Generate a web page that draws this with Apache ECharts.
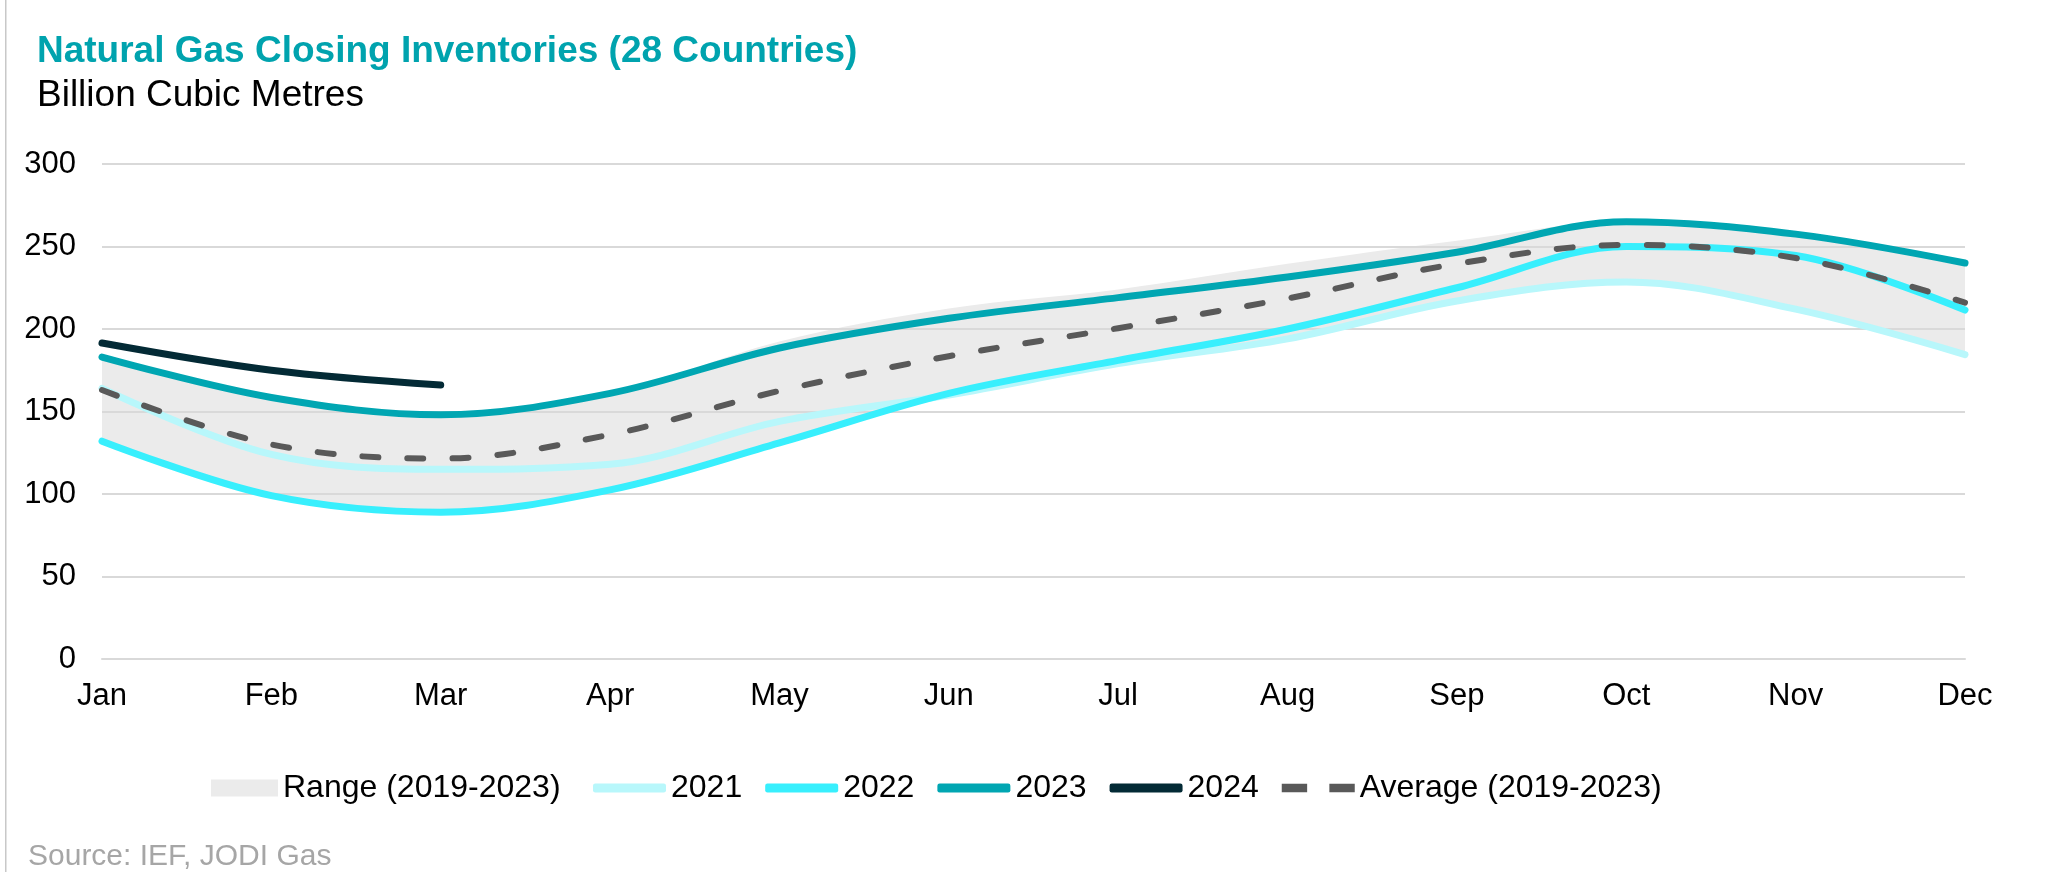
<!DOCTYPE html>
<html>
<head>
<meta charset="utf-8">
<script src="https://cdn.jsdelivr.net/npm/echarts@6/dist/echarts.min.js"></script>
<style>
html,body{margin:0;padding:0;background:#fff;}
#chart{width:2067px;height:872px;}
</style>
</head>
<body>
<div id="chart"></div>
<script>
const months = ['Jan','Feb','Mar','Apr','May','Jun','Jul','Aug','Sep','Oct','Nov','Dec'];
const rangeLow  = [132, 99, 89, 102.5, 131, 160, 179, 194, 217, 228.5, 212, 184.5];
const rangeHigh = [183, 158.5, 148, 161, 192.5, 212.5, 224, 239.5, 253.5, 265, 257.5, 240];
const y2021 = [164, 124, 115, 118, 144, 160, 179, 194, 217, 228.5, 212, 184.5];
const y2022 = [132, 99, 89, 102.5, 131, 161, 181, 200, 225, 250, 244.5, 211.5];
const y2023 = [183, 158.5, 148, 161, 188.5, 206.5, 219, 231.5, 246.5, 265, 257.5, 240];
const y2024 = [191.5, 175, 166];
const avg   = [163, 130, 121.5, 136, 162.5, 183.5, 200.5, 218.5, 239.5, 251, 243, 216];

const FONT = 'Liberation Sans, Arial, sans-serif';
const SM = 0.35;
const rangeSpan = rangeHigh.map((v, i) => +(v - rangeLow[i]).toFixed(2));

const C2021 = '#B8F7FB', C2022 = '#38EFFD', C2023 = '#00A6B2', C2024 = '#032A35', CAVG = '#595959', CRANGE = '#EBEBEB';
const legendText = { fontFamily: FONT, fontSize: 32, color: '#000' };

const chart = echarts.init(document.getElementById('chart'));
chart.setOption({
  animation: false,
  backgroundColor: '#fff',
  textStyle: { fontFamily: FONT },
  title: [
    { text: 'Natural Gas Closing Inventories (28 Countries)', left: 37, top: 33, padding: 0,
      textStyle: { fontFamily: FONT, fontSize: 37, fontWeight: 'bold', color: '#00A3AE', lineHeight: 37 } },
    { text: 'Billion Cubic Metres', left: 37, top: 77, padding: 0,
      textStyle: { fontFamily: FONT, fontSize: 37, fontWeight: 'normal', color: '#000', lineHeight: 37 } },
    { text: 'Source: IEF, JODI Gas', left: 28, top: 842, padding: 0,
      textStyle: { fontFamily: FONT, fontSize: 30, fontWeight: 'normal', color: '#A6A6A6', lineHeight: 30 } }
  ],
  graphic: [
    { type: 'rect', shape: { x: 5, y: 0, width: 1.5, height: 872 }, style: { fill: '#C8C8C8' } }
  ],
  legend: [
    {
      left: 206, top: 767, itemWidth: 67, itemHeight: 17, itemGap: 23,
      textStyle: legendText,
      data: [{ name: 'Range (2019-2023)', icon: 'rect', itemStyle: { color: CRANGE } }]
    },
    {
      left: 588, top: 767, itemWidth: 73, itemHeight: 9, itemGap: 23,
      textStyle: legendText,
      data: [
        { name: '2021', icon: 'roundRect', itemStyle: { color: C2021 } },
        { name: '2022', icon: 'roundRect', itemStyle: { color: C2022 } },
        { name: '2023', icon: 'roundRect', itemStyle: { color: C2023 } },
        { name: '2024', icon: 'roundRect', itemStyle: { color: C2024 } },
        { name: 'Average (2019-2023)', icon: 'path://M0,0h24v8h-24z M45,0h24v8h-24z', itemStyle: { color: CAVG } }
      ]
    }
  ],
  grid: { left: 102, right: 102, top: 164, bottom: 213, containLabel: false, outerBoundsMode: 'none' },
  xAxis: {
    type: 'category', data: months, boundaryGap: false,
    axisLine: { show: true, lineStyle: { color: '#D9D9D9', width: 2 } },
    axisTick: { show: false },
    axisLabel: { fontFamily: FONT, fontSize: 31, color: '#000', margin: 22 },
    splitLine: { show: false }
  },
  yAxis: {
    type: 'value', min: 0, max: 300, interval: 50,
    axisLine: { show: false }, axisTick: { show: false },
    axisLabel: { fontFamily: FONT, fontSize: 31, color: '#000', margin: 26, align: 'right' },
    splitLine: { show: true, lineStyle: { color: '#D9D9D9', width: 2 } }
  },
  series: [
    { name: 'rangeBase', type: 'line', data: rangeLow, stack: 'range', smooth: SM, symbol: 'none',
      lineStyle: { opacity: 0 }, z: -1, silent: true, color: CRANGE },
    { name: 'Range (2019-2023)', type: 'line', data: rangeSpan, stack: 'range', smooth: SM, symbol: 'none',
      lineStyle: { opacity: 0 }, areaStyle: { color: CRANGE, opacity: 1 }, z: -1, color: CRANGE },
    { name: '2021', type: 'line', data: y2021, smooth: SM, symbol: 'none', color: C2021,
      lineStyle: { width: 7, color: C2021, cap: 'round' }, z: 3 },
    { name: '2022', type: 'line', data: y2022, smooth: SM, symbol: 'none', color: C2022,
      lineStyle: { width: 7, color: C2022, cap: 'round' }, z: 4 },
    { name: '2023', type: 'line', data: y2023, smooth: SM, symbol: 'none', color: C2023,
      lineStyle: { width: 7, color: C2023, cap: 'round' }, z: 5 },
    { name: '2024', type: 'line', data: y2024, smooth: SM, symbol: 'none', color: C2024,
      lineStyle: { width: 7, color: C2024, cap: 'round' }, z: 6 },
    { name: 'Average (2019-2023)', type: 'line', data: avg, smooth: SM, symbol: 'none', color: CAVG,
      lineStyle: { width: 6, color: CAVG, type: [16, 29], cap: 'round' }, z: 7 }
  ]
});
</script>
</body>
</html>
